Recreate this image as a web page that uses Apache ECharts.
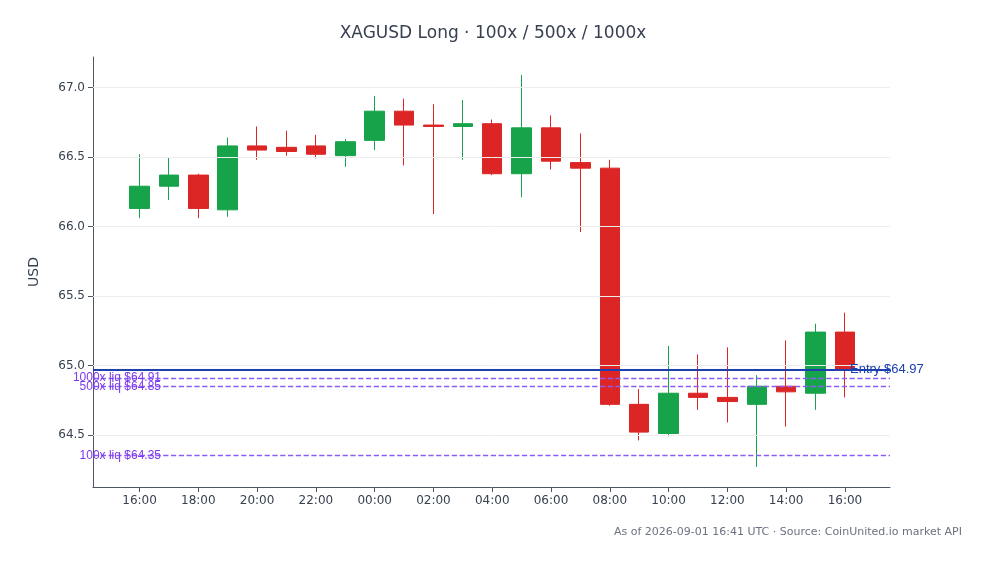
<!DOCTYPE html>
<html><head><meta charset="utf-8">
<script src="https://cdn.jsdelivr.net/npm/echarts@6/dist/echarts.min.js"></script>
<style>html,body{margin:0;padding:0;background:#fff}#c{width:986px;height:564px}</style>
</head><body><div id="c"></div>
<script>
const times = ['2026-08-31T16:00:00Z','2026-08-31T17:00:00Z','2026-08-31T18:00:00Z','2026-08-31T19:00:00Z','2026-08-31T20:00:00Z','2026-08-31T21:00:00Z','2026-08-31T22:00:00Z','2026-08-31T23:00:00Z','2026-09-01T00:00:00Z','2026-09-01T01:00:00Z','2026-09-01T02:00:00Z','2026-09-01T03:00:00Z','2026-09-01T04:00:00Z','2026-09-01T05:00:00Z','2026-09-01T06:00:00Z','2026-09-01T07:00:00Z','2026-09-01T08:00:00Z','2026-09-01T09:00:00Z','2026-09-01T10:00:00Z','2026-09-01T11:00:00Z','2026-09-01T12:00:00Z','2026-09-01T13:00:00Z','2026-09-01T14:00:00Z','2026-09-01T15:00:00Z','2026-09-01T16:00:00Z'];
const opens  = [66.13,66.29,66.37,66.12,66.58,66.57,66.58,66.51,66.62,66.83,66.73,66.72,66.74,66.38,66.71,66.46,66.42,64.72,64.51,64.80,64.77,64.72,64.85,64.80,65.24];
const closes = [66.29,66.37,66.13,66.58,66.55,66.54,66.52,66.61,66.83,66.73,66.72,66.74,66.38,66.71,66.47,66.42,64.72,64.52,64.80,64.77,64.74,64.85,64.81,65.24,64.97];
const lows   = [66.06,66.19,66.06,66.07,66.48,66.51,66.49,66.43,66.55,66.44,66.09,66.48,66.37,66.21,66.41,65.96,64.71,64.46,64.49,64.68,64.59,64.27,64.56,64.68,64.77];
const highs  = [66.52,66.50,66.38,66.64,66.72,66.69,66.66,66.63,66.94,66.92,66.88,66.91,66.77,67.09,66.80,66.67,66.48,64.83,65.14,65.08,65.13,64.93,65.18,65.30,65.38];
const yTicks = [64.5,65.0,65.5,66.0,66.5,67.0];
const entry = 64.97;
const liqLevels = [64.91,64.85,64.35];
const liqNames = ['1000x liq $64.91','500x liq $64.85','100x liq $64.35'];

const chart = echarts.init(document.getElementById('c'));
const data = times.map((t,i)=>[t,opens[i],closes[i],lows[i],highs[i]]);
const H = 3600*1000;
chart.setOption({
  animation:false,
  title:{text:'XAGUSD Long · 100x / 500x / 1000x',left:'center',top:20,textStyle:{fontSize:17,fontWeight:'normal',color:'#374151',fontFamily:'DejaVu Sans'}},
  graphic:[{type:'text',right:24,top:527,style:{text:'As of 2026-09-01 16:41 UTC · Source: CoinUnited.io market API',fill:'#6b7280',fontSize:11,fontFamily:'DejaVu Sans'}}],
  grid:{left:93,right:96,top:57,bottom:77},
  xAxis:{type:'time',min:new Date('2026-08-31T14:25:00Z').getTime(),max:new Date('2026-09-01T17:32:00Z').getTime(),
    minInterval:3*H,maxInterval:3*H,
    axisLine:{lineStyle:{color:'#4b5563'}},axisTick:{show:true,lineStyle:{color:'#4b5563'}},
    axisLabel:{formatter:'{HH}:{mm}',color:'#374151',fontSize:12,fontFamily:'DejaVu Sans'},splitLine:{show:false}},
  yAxis:{type:'value',min:64.125,max:67.22,name:'USD',nameLocation:'middle',nameGap:52,nameTextStyle:{fontSize:14,color:'#374151',fontFamily:'DejaVu Sans'},
    axisLine:{show:true,lineStyle:{color:'#4b5563'}},
    axisTick:{show:true,customValues:yTicks,lineStyle:{color:'#4b5563'}},
    axisLabel:{customValues:yTicks,formatter:v=>v.toFixed(1),color:'#374151',fontSize:12,fontFamily:'DejaVu Sans'},
    splitLine:{show:false}},
  series:[{type:'candlestick',data:data,barWidth:20,
    itemStyle:{color:'#16a34a',color0:'#dc2626',borderColor:'#16a34a',borderColor0:'#dc2626',borderWidth:1},
    markLine:{symbol:'none',silent:true,data:[
      ...yTicks.map(v=>({yAxis:v,lineStyle:{color:'#eeeeee',type:'solid',width:1},label:{show:false}})),
      {yAxis:entry,lineStyle:{color:'#1e40af',type:'solid',width:2},label:{show:true,position:'end',formatter:'Entry $64.97',color:'#1e40af',fontSize:13,distance:-40,offset:[0,0]}},
      ...liqLevels.map((v,i)=>({yAxis:v,lineStyle:{color:'#8b5cf6',type:'dashed',width:1.3},label:{show:true,position:'start',formatter:liqNames[i],color:'#7c3aed',fontSize:12,distance:-68}}))
    ]}
  }]
});
</script></body></html>
